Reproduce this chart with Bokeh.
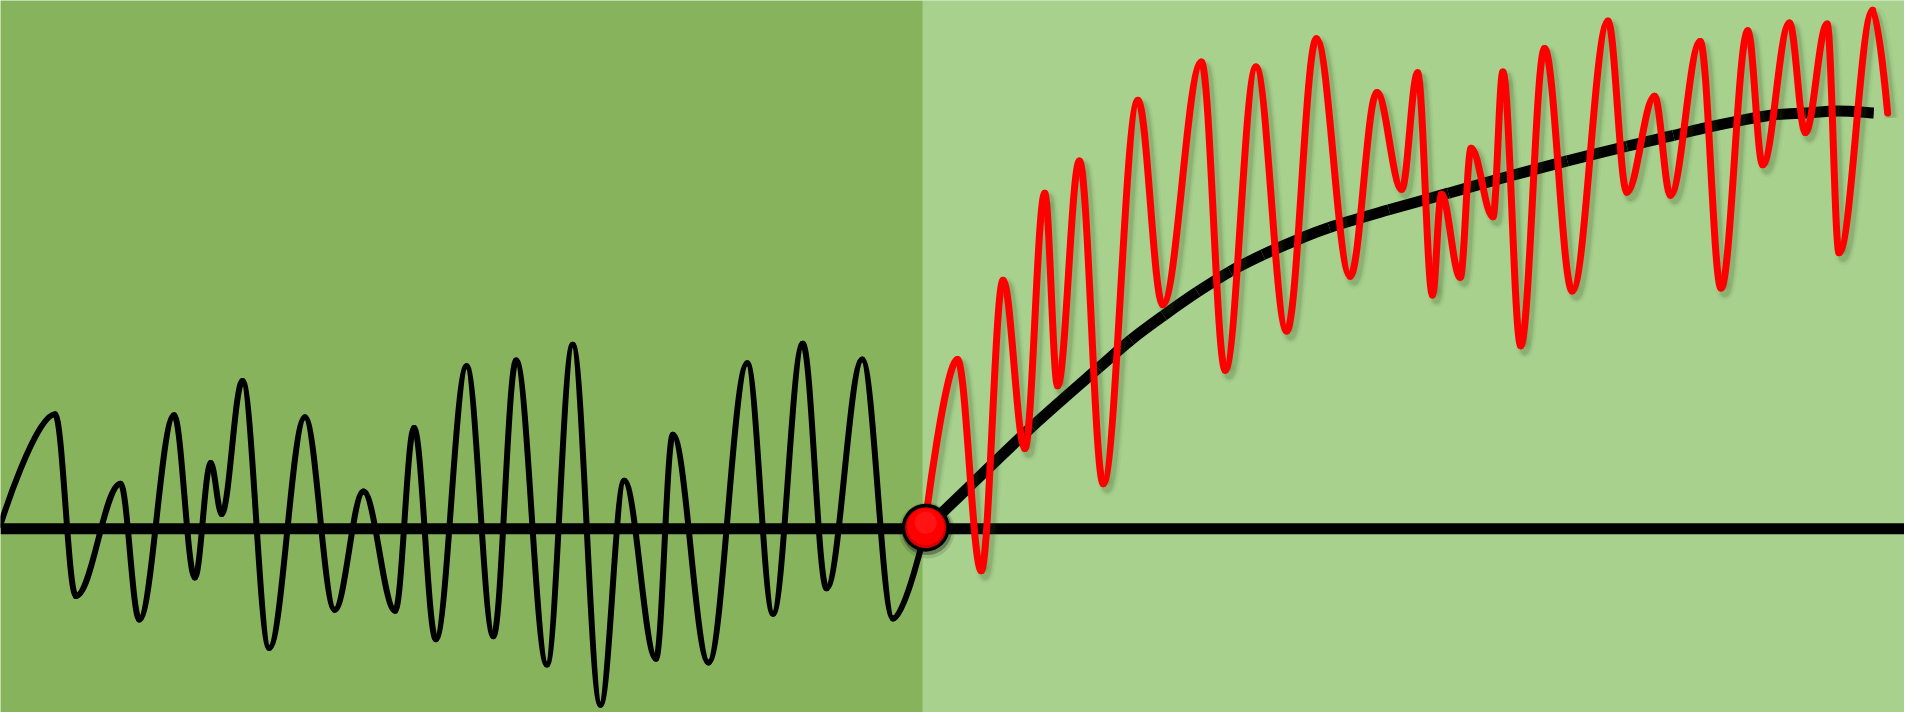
from bokeh.plotting import figure
from bokeh.models import Range1d
from bokeh.embed import file_html
from bokeh.resources import INLINE

# ---- data (x in picture units, y = height above the baseline) ----
split_x = 930
x_end = 1920
y_bottom = -188
y_top = 540

# oscillating black signal (left half): turning points
left_x = [0, 55, 76, 121, 140, 175, 196, 212, 223, 244, 271, 307, 337, 366, 398,
          417, 439, 470, 497, 520, 551, 577, 605, 629, 661, 678, 714, 753, 779,
          809, 833, 869, 900, 933]
left_y = [4, 117, -69, 46, -93, 116, -50, 67, 15, 151, -122, 114, -83, 38, -84,
          103, -113, 166, -110, 172, -139, 188, -180, 49, -133, 96, -137, 169, -87,
          189, -61, 173, -92, 0]

# red signal (right half): turning points
red_x = [933, 965, 989, 1011, 1033, 1053, 1066, 1088, 1112, 1147, 1172, 1211, 1235,
         1266, 1297, 1327, 1361, 1388, 1413, 1429, 1444, 1453, 1472, 1483, 1505,
         1515, 1533, 1557, 1585, 1621, 1640, 1668, 1684, 1714, 1735, 1762, 1777,
         1804, 1820, 1842, 1854, 1888, 1903]
red_y = [10, 173, -43, 254, 82, 343, 146, 376, 46, 438, 229, 477, 162,
         472, 202, 501, 258, 446, 347, 466, 239, 342, 257, 389, 319,
         467, 187, 491, 243, 519, 344, 442, 341, 498, 246, 509, 372,
         517, 405, 516, 282, 530, 425]

# smooth trend curve
trend_x = [933, 980, 1040, 1107, 1140, 1173, 1207, 1240, 1273, 1307, 1340, 1400,
           1460, 1520, 1580, 1640, 1687, 1720, 1753, 1787, 1820, 1853, 1889]
trend_y = [0, 46, 104, 164, 193, 218, 242, 263, 280, 295, 308, 326,
           343, 360, 376, 391, 402, 410, 417, 423, 425, 427, 425]

dot_x = [933]
dot_y = [1]

BG_LEFT = "#87B35D"
BG_RIGHT = "#A9D18E"
RED = "#FF0000"


def extrema_bezier(xs, ys, k=0.36):
    """Segments between turning points, with flat tangents at each turning point."""
    n = len(xs)
    d = dict(x0=[], y0=[], x1=[], y1=[], cx0=[], cy0=[], cx1=[], cy1=[])
    for i in range(n - 1):
        dx = xs[i + 1] - xs[i]
        d["x0"].append(xs[i]); d["y0"].append(ys[i])
        d["x1"].append(xs[i + 1]); d["y1"].append(ys[i + 1])
        if i == 0:
            d["cx0"].append(xs[i]); d["cy0"].append(ys[i])
        else:
            d["cx0"].append(xs[i] + k * dx); d["cy0"].append(ys[i])
        if i == n - 2:
            d["cx1"].append(xs[i + 1]); d["cy1"].append(ys[i + 1])
        else:
            d["cx1"].append(xs[i + 1] - k * dx); d["cy1"].append(ys[i + 1])
    return d


def smooth_bezier(xs, ys):
    """Catmull-Rom style smooth path through the points."""
    n = len(xs)
    d = dict(x0=[], y0=[], x1=[], y1=[], cx0=[], cy0=[], cx1=[], cy1=[])
    for i in range(n - 1):
        xp, yp = (xs[i - 1], ys[i - 1]) if i > 0 else (xs[i], ys[i])
        xn, yn = (xs[i + 2], ys[i + 2]) if i + 2 < n else (xs[i + 1], ys[i + 1])
        d["x0"].append(xs[i]); d["y0"].append(ys[i])
        d["x1"].append(xs[i + 1]); d["y1"].append(ys[i + 1])
        d["cx0"].append(xs[i] + (xs[i + 1] - xp) / 6)
        d["cy0"].append(ys[i] + (ys[i + 1] - yp) / 6)
        d["cx1"].append(xs[i + 1] - (xn - xs[i]) / 6)
        d["cy1"].append(ys[i + 1] - (yn - ys[i]) / 6)
    return d


def shifted(d, dx, dy):
    out = {}
    for key, vals in d.items():
        if key.startswith("x") or key.startswith("cx"):
            out[key] = [v + dx for v in vals]
        else:
            out[key] = [v + dy for v in vals]
    return out


p = figure(width=1904, height=712, output_backend="svg", toolbar_location=None,
           x_range=Range1d(0, x_end), y_range=Range1d(y_bottom, y_top),
           min_border=0, min_border_left=0, min_border_right=0,
           min_border_top=0, min_border_bottom=0)
p.axis.visible = False
p.grid.visible = False
p.outline_line_color = None
p.background_fill_color = BG_RIGHT
p.border_fill_color = BG_RIGHT

# backgrounds
p.quad(left=[0], right=[split_x], bottom=[y_bottom], top=[y_top],
       fill_color=BG_LEFT, line_color=None)
p.quad(left=[split_x], right=[x_end], bottom=[y_bottom], top=[y_top],
       fill_color=BG_RIGHT, line_color=None)

# baseline
p.line(x=[0, x_end], y=[0, 0], line_color="black", line_width=11)

# left black oscillation
lb = extrema_bezier(left_x, left_y)
p.bezier(line_color="black", line_width=6, line_cap="round", **lb)

# smooth trend curve
tb = smooth_bezier(trend_x, trend_y)
p.bezier(line_color="black", line_width=11, line_cap="butt", **tb)

# red oscillation with soft shadow
rb = extrema_bezier(red_x, red_y)
for w, a in [(15, 0.05), (11, 0.08), (8, 0.12)]:
    p.bezier(line_color="#2E4A1E", line_alpha=a, line_width=w, line_cap="butt",
             **shifted(rb, 4, -5))
p.bezier(line_color=RED, line_width=7, line_cap="round", **rb)

# the dot
p.scatter(x=[v + 1 for v in dot_x], y=[v - 3 for v in dot_y], size=56,
          marker="circle", fill_color="black", fill_alpha=0.12, line_color=None)
p.scatter(x=[v + 1 for v in dot_x], y=[v - 2 for v in dot_y], size=51,
          marker="circle", fill_color="black", fill_alpha=0.3, line_color=None)
p.scatter(x=dot_x, y=dot_y, size=48, marker="circle",
          fill_color="black", line_color=None)
p.scatter(x=dot_x, y=dot_y, size=41, marker="circle",
          fill_color="#D40000", line_color=None)
p.scatter(x=dot_x, y=[v + 1 for v in dot_y], size=37, marker="circle",
          fill_color=RED, line_color=None)
p.scatter(x=dot_x, y=[v + 5 for v in dot_y], size=22, marker="circle",
          fill_color="#FF4A4A", fill_alpha=0.25, line_color=None)

open("out.html", "w").write(file_html(p, INLINE))
